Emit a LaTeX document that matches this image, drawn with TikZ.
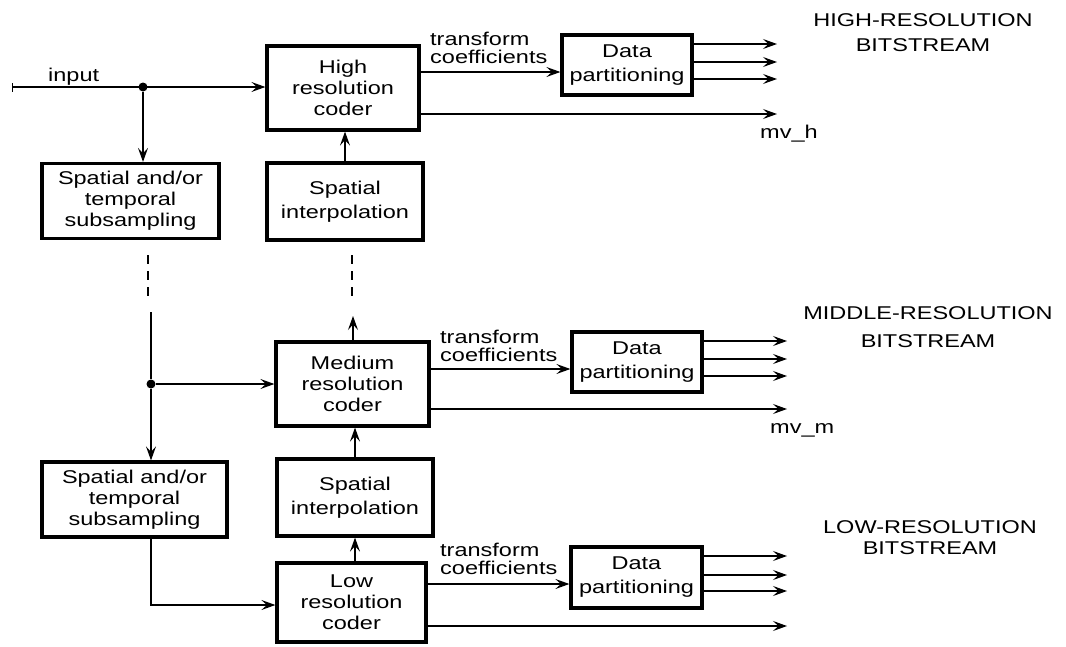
\documentclass[tikz,border=0pt]{standalone}
\usepackage{fontspec}
\setmainfont{Liberation Sans}[FakeStretch=1.27]
\usetikzlibrary{arrows.meta}
\begin{document}
\begin{tikzpicture}[x=1pt,y=-1pt,
  blk/.style={draw, line width=3.2pt, inner sep=0pt, align=center,
    font=\fontsize{18.5}{21}\selectfont},
  blkwide/.style={blk, font=\fontsize{18.5}{24}\selectfont},
  lbl/.style={inner sep=0pt, font=\fontsize{18.5}{18}\selectfont, align=left},
  ttl/.style={inner sep=0pt, align=center},
  arr/.style={line width=1.2pt, -{Stealth[length=14pt,width=10pt,inset=5.5pt]}},
  line/.style={line width=1.2pt},
  dashline/.style={line width=1.8pt, dash pattern=on 9pt off 7pt},
  junction/.style={circle, fill, inner sep=0pt, minimum size=9pt}]
\useasboundingbox (0,0) rectangle (1066,646);

% ---------- blocks ----------
\node[blk, minimum width=152pt, minimum height=84pt] (hc) at (343,88) {High\\resolution\\coder};
\node[blkwide, minimum width=130pt, minimum height=60pt] (dp1) at (627,65) {Data\\partitioning};
\node[blk, minimum width=177pt, minimum height=75pt] (sp1) at (130.5,201) {Spatial and/or\\temporal\\subsampling};
\node[blkwide, minimum width=156pt, minimum height=77pt] (ip1) at (345,201.5) {Spatial\\interpolation};

\node[blk, minimum width=153pt, minimum height=84pt] (mc) at (352.5,384) {Medium\\resolution\\coder};
\node[blkwide, minimum width=130pt, minimum height=60pt] (dp2) at (637,362) {Data\\partitioning};
\node[blk, minimum width=185pt, minimum height=75pt] (sp2) at (134.5,499.5) {Spatial and/or\\temporal\\subsampling};
\node[blkwide, minimum width=156pt, minimum height=77pt] (ip2) at (355,497.5) {Spatial\\interpolation};

\node[blk, minimum width=149pt, minimum height=79pt] (lc) at (351.5,602.5) {Low\\resolution\\coder};
\node[blkwide, minimum width=131pt, minimum height=61pt] (dp3) at (636.5,577.5) {Data\\partitioning};

% ---------- helper points ----------
\coordinate (in) at (12,87);
\node[junction] (j1) at (143,87) {};
\node[junction] (j2) at (151,384) {};
\coordinate (ltop) at (151,312);
\coordinate (lturn) at (151,605);
\coordinate (mup) at (353,316);
\coordinate (o1) at (777,0);
\coordinate (o2) at (787,0);

% ---------- input and left column ----------
\draw[line, {Bar[width=9pt,line width=1.2pt]}-{Stealth[length=14pt,width=10pt,inset=5.5pt]}]
  (in) -- (in -| hc.west);
\draw[arr] (j1) -- (j1 |- sp1.north);
\draw[dashline] (148,255) -- (148,298);
\draw[line] (ltop) -- (j2);
\draw[arr] (j2) -- (j2 |- sp2.north);
\draw[arr] (j2) -- (j2 -| mc.west);
\draw[arr] (sp2.south -| lturn) -- (lturn) -- (lturn -| lc.west);

% ---------- interpolation column ----------
\draw[arr] (ip1.north) -- (ip1.north |- hc.south);
\draw[dashline] (352,255) -- (352,300);
\draw[arr] (mc.north -| mup) -- (mup);
\draw[arr] (ip2.north) -- (ip2.north |- mc.south);
\draw[arr] (lc.north -| ip2.north) -- (ip2.south);

% ---------- high layer outputs ----------
\draw[arr] (hc.east |- 0,72) -- (dp1.west |- 0,72);
\draw[arr] (dp1.east |- 0,44) -- (o1 |- 0,44);
\draw[arr] (dp1.east |- 0,62) -- (o1 |- 0,62);
\draw[arr] (dp1.east |- 0,79) -- (o1 |- 0,79);
\draw[arr] (hc.east |- 0,114) -- (o1 |- 0,114);

% ---------- middle layer outputs ----------
\draw[arr] (mc.east |- 0,369) -- (dp2.west |- 0,369);
\draw[arr] (dp2.east |- 0,341) -- (o2 |- 0,341);
\draw[arr] (dp2.east |- 0,359) -- (o2 |- 0,359);
\draw[arr] (dp2.east |- 0,376) -- (o2 |- 0,376);
\draw[arr] (mc.east |- 0,409) -- (o2 |- 0,409);

% ---------- low layer outputs ----------
\draw[arr] (lc.east |- 0,584) -- (dp3.west |- 0,584);
\draw[arr] (dp3.east |- 0,556) -- (o2 |- 0,556);
\draw[arr] (dp3.east |- 0,575) -- (o2 |- 0,575);
\draw[arr] (dp3.east |- 0,591) -- (o2 |- 0,591);
\draw[arr] (lc.east |- 0,626) -- (o2 |- 0,626);

% ---------- labels ----------
\node[lbl, anchor=base west] (tin) at (48,81) {input};
\node[lbl, anchor=south west] (tc1) at (430,64) {transform\\coefficients};
\node[lbl, anchor=south west] (tc2) at (440,362) {transform\\coefficients};
\node[lbl, anchor=south west] (tc3) at (440,575) {transform\\coefficients};
\node[lbl, anchor=base west] (mvh) at (760,138) {mv\_h};
\node[lbl, anchor=base west] (mvm) at (770,433) {mv\_m};

\node[ttl, anchor=south, font=\fontsize{18.5}{25}\selectfont] (bsh) at (923,52) {HIGH-RESOLUTION\\BITSTREAM};
\node[ttl, anchor=south, font=\fontsize{18.5}{28}\selectfont] (bsm) at (928,348) {MIDDLE-RESOLUTION\\BITSTREAM};
\node[ttl, anchor=south, font=\fontsize{18.5}{21}\selectfont] (bsl) at (930,555) {LOW-RESOLUTION\\BITSTREAM};
\end{tikzpicture}
\end{document}
